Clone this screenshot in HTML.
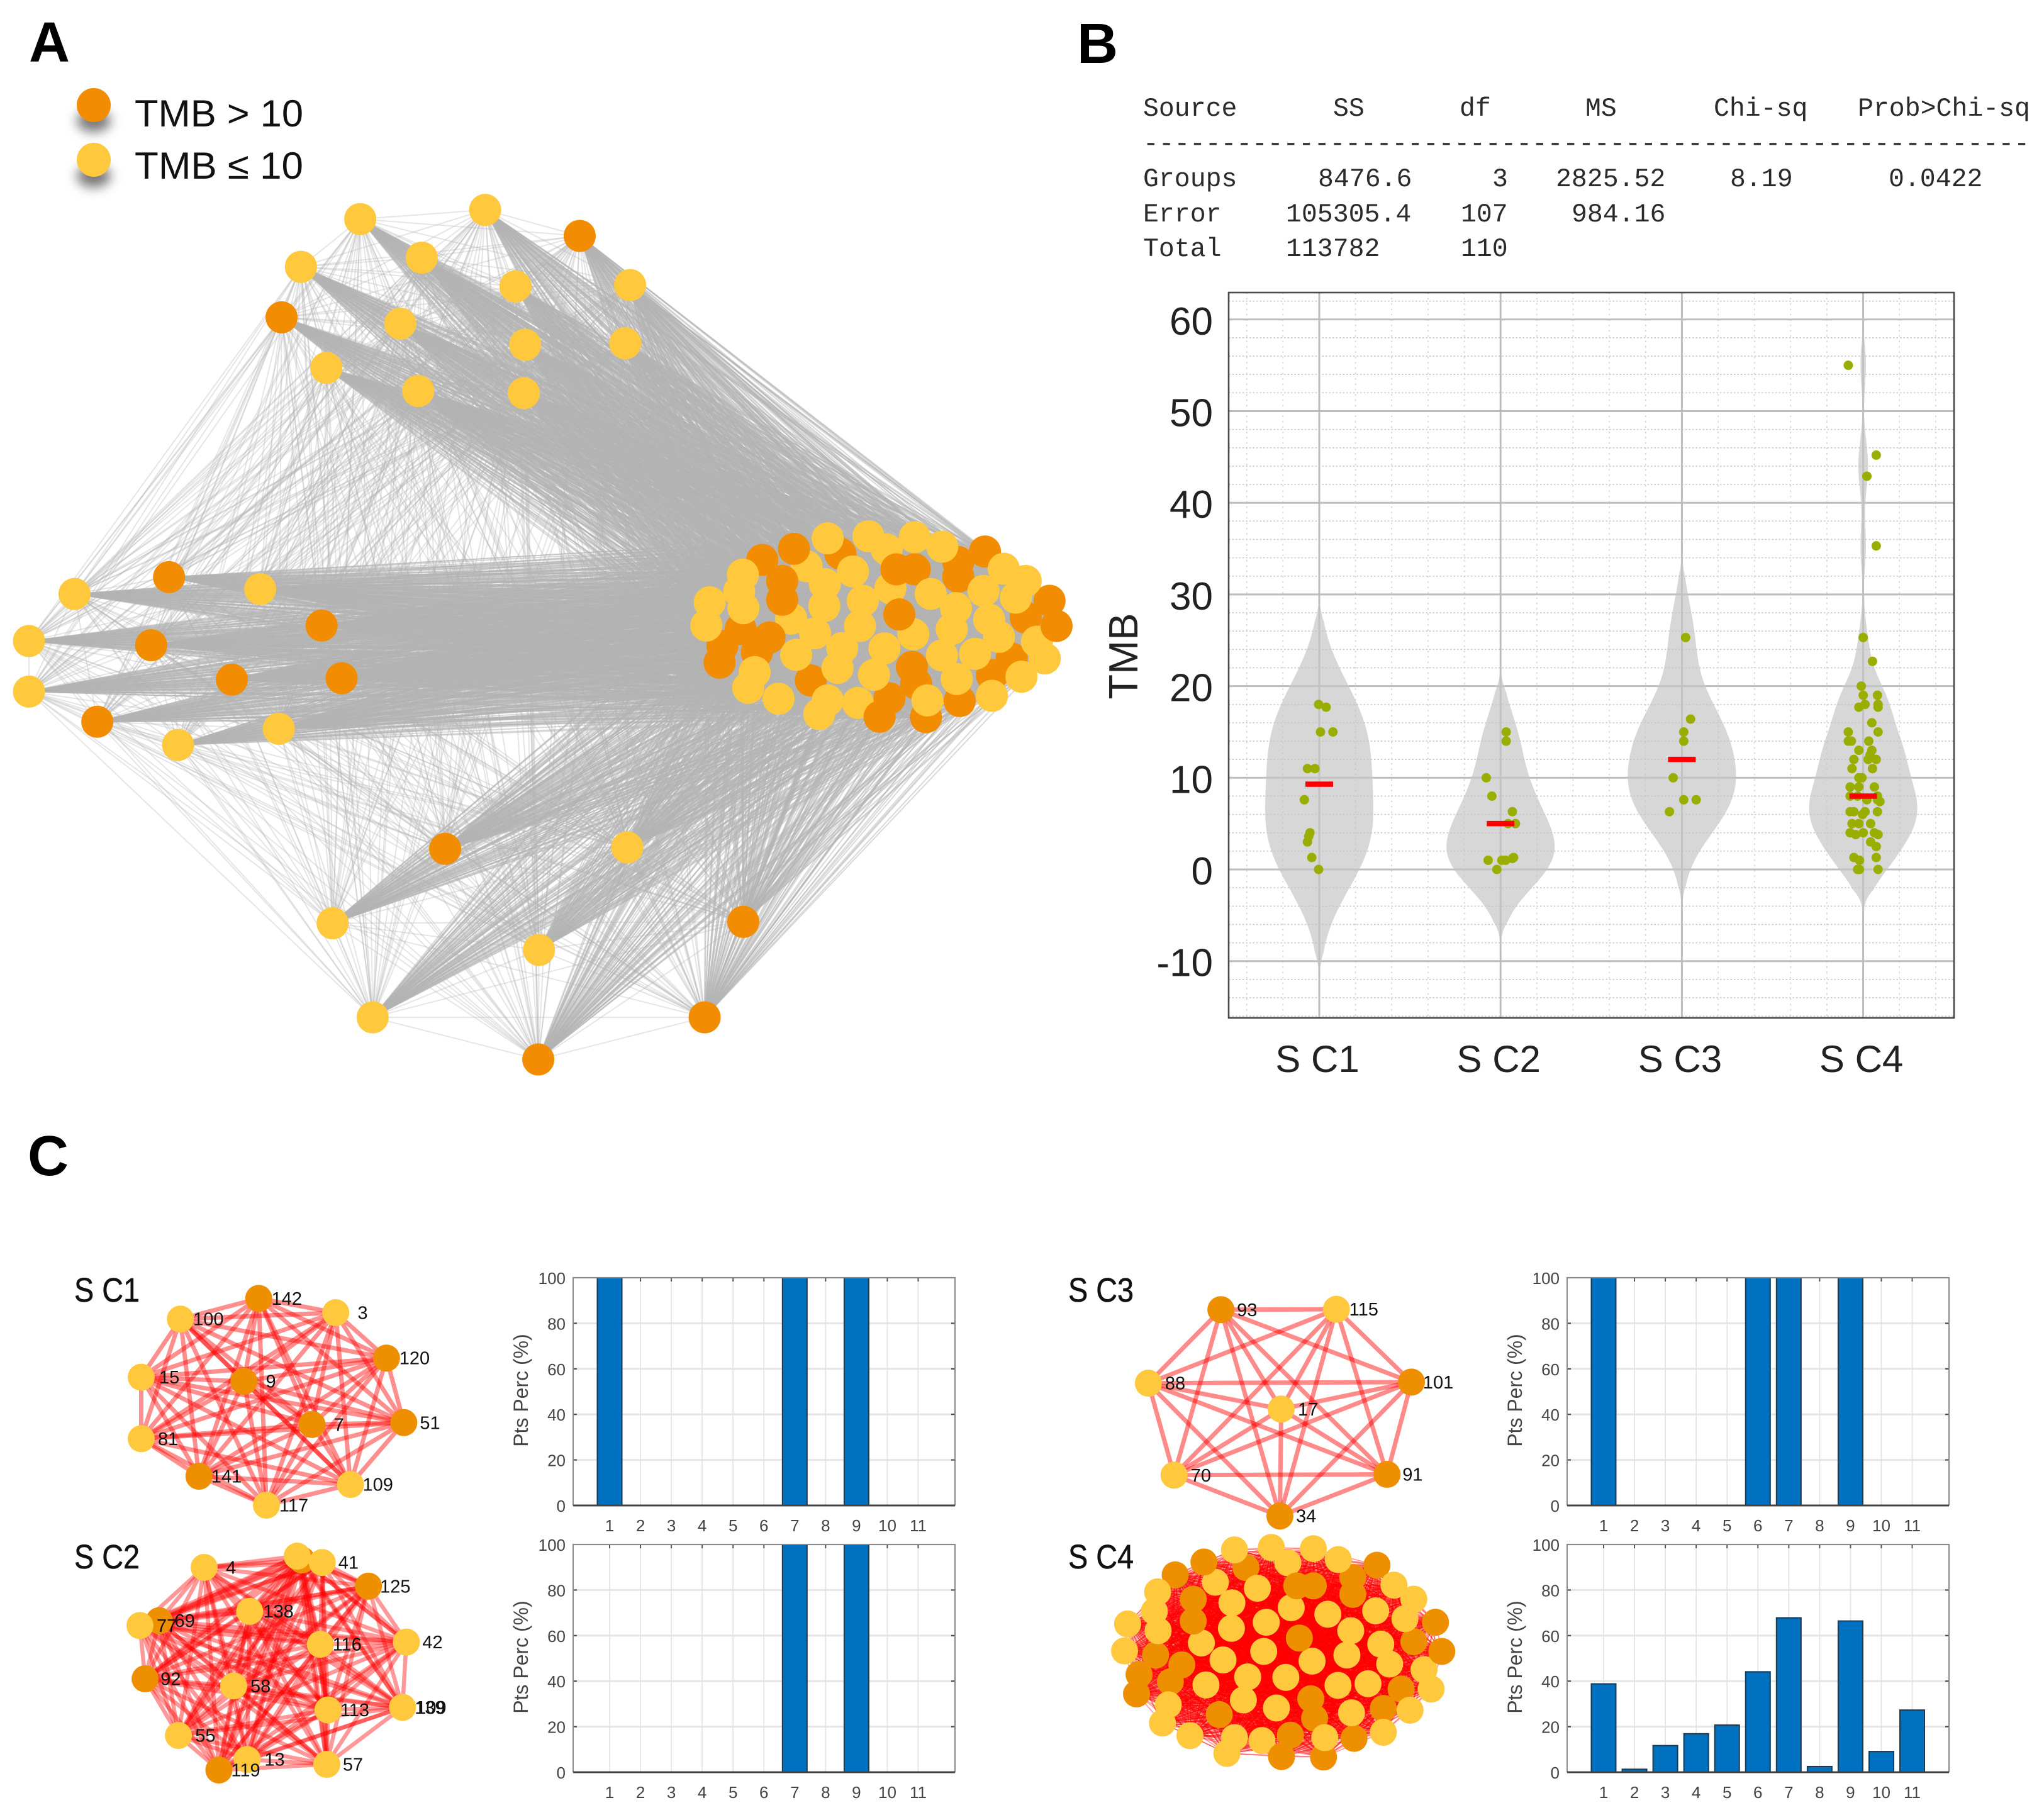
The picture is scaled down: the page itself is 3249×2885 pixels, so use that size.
<!DOCTYPE html>
<html lang="en">
<head>
<meta charset="utf-8">
<title>TMB network, violin plot and cluster bar charts</title>
<style>
html,body{margin:0;padding:0;background:#fff;}
svg{display:block;}
text{font-family:"Liberation Sans",sans-serif;}
.mono{font-family:"Liberation Mono",monospace;font-size:41.5px;fill:#2b2b2b;}
</style>
</head>
<body>
<svg id="figure" xmlns="http://www.w3.org/2000/svg" width="3249" height="2885" viewBox="0 0 3249 2885">
<defs>
<filter id="soft" x="-80%" y="-80%" width="260%" height="260%"><feGaussianBlur stdDeviation="9"/></filter>
</defs>
<rect width="3249" height="2885" fill="#fff"/>

<text x="46" y="98" font-size="90" font-weight="bold" fill="#000">A</text>
<text x="1712" y="100" font-size="90" font-weight="bold" fill="#000">B</text>
<text x="44" y="1868" font-size="90" font-weight="bold" fill="#000">C</text>

<g id="net-a"></g>

<g>
<ellipse cx="149" cy="192" rx="27" ry="18" fill="#777" filter="url(#soft)"/>
<circle cx="149" cy="167" r="27" fill="#F28C00"/>
<text x="214" y="201" font-size="60" textLength="268" lengthAdjust="spacingAndGlyphs" fill="#111">TMB &gt; 10</text>
<ellipse cx="149" cy="280" rx="27" ry="18" fill="#777" filter="url(#soft)"/>
<circle cx="149" cy="254" r="27" fill="#FFC83D"/>
<text x="214" y="284" font-size="60" textLength="268" lengthAdjust="spacingAndGlyphs" fill="#111">TMB ≤ 10</text>
</g>

<g>
<text class="mono" x="1817" y="184">Source</text>
<text class="mono" x="2119" y="184">SS</text>
<text class="mono" x="2320" y="184">df</text>
<text class="mono" x="2520" y="184">MS</text>
<text class="mono" x="2724" y="184">Chi-sq</text>
<text class="mono" x="2953" y="184">Prob&gt;Chi-sq</text>
<text class="mono" x="1817" y="240" textLength="1409" lengthAdjust="spacingAndGlyphs">---------------------------------------------------------</text>
<text class="mono" x="1817" y="296">Groups</text>
<text class="mono" x="2095" y="296">8476.6</text>
<text class="mono" x="2372" y="296">3</text>
<text class="mono" x="2473" y="296">2825.52</text>
<text class="mono" x="2750" y="296">8.19</text>
<text class="mono" x="3002" y="296">0.0422</text>
<text class="mono" x="1817" y="352">Error</text>
<text class="mono" x="2044" y="352">105305.4</text>
<text class="mono" x="2322" y="352">107</text>
<text class="mono" x="2498" y="352">984.16</text>
<text class="mono" x="1817" y="407">Total</text>
<text class="mono" x="2044" y="407">113782</text>
<text class="mono" x="2322" y="407">110</text>
</g>

<g id="violin"></g>
<text transform="translate(1808,1043) rotate(-90)" text-anchor="middle" font-size="65" fill="#222">TMB</text>

<text x="118" y="2069" font-size="54" textLength="104" lengthAdjust="spacingAndGlyphs" fill="#111" stroke="#111" stroke-width="0.6">S C1</text>
<text x="118" y="2493" font-size="54" textLength="104" lengthAdjust="spacingAndGlyphs" fill="#111" stroke="#111" stroke-width="0.6">S C2</text>
<text x="1698" y="2069" font-size="54" textLength="104" lengthAdjust="spacingAndGlyphs" fill="#111" stroke="#111" stroke-width="0.6">S C3</text>
<text x="1698" y="2493" font-size="54" textLength="104" lengthAdjust="spacingAndGlyphs" fill="#111" stroke="#111" stroke-width="0.6">S C4</text>

<g id="nets-c"></g>
<g id="bars-c"></g>
</svg>

<script>
/* ---------- Violin chart data ---------- */
const violinCategories = ['S C1', 'S C2', 'S C3', 'S C4'];
const violinTicks = [-10, 0, 10, 20, 30, 40, 50, 60];
const tmbC1 = [18, 17.7, 15, 15, 11, 11, 7.6, 4, 3.6, 3, 1.3, 0];
const jitterC1 = [-1, 11, 2, 22, -19, -7, -24, -15, -17, -19, -12, -1];
const tmbC2 = [15, 14, 10, 8, 6.3, 5, 5, 1, 1, 1, 1.2, 1.3, 0];
const jitterC2 = [9, 9, -23, -14, 19, 12, 24, -20, 2, 8, 19, 21, -6];
const tmbC3 = [25.3, 16.4, 15, 14, 10, 7.6, 7.6, 6.3];
const jitterC3 = [6, 14, 3, 3, -14, 3, 23, -20];
const tmbC4 = [55, 45.2, 42.9, 35.3, 25.3, 22.7, 20, 19, 19, 18, 17.7, 18, 17.7, 16, 15, 15, 14, 14, 14, 13, 13, 12.5, 12, 12, 12, 11, 11, 10, 10, 9, 9, 9, 8, 8, 8, 7.6, 7.6, 7.4, 6.3, 6.3, 6.3, 6, 6.3, 5, 5, 5, 4, 3.8, 4, 4, 3.8, 3, 2.5, 1.3, 1, 1.3, 0, 0, 0];
const jitterC4 = [-24, 21, 6, 21, 0, 15, -3, 0, 23, 3, -7, 24, 24, 14, -24, 24, 9, -24, -19, -7, 14, 11, -15, 8, 21, -18, 15, -7, -2, -21, -7, 18, -9, -21, 23, 6, 23, 27, -21, -15, 3, -1, 23, -18, -7, 12, -21, -12, 0, 18, 24, 12, 21, -15, -6, 21, -9, -6, 24];
const medians = [9.3, 5, 12, 8];
const bandwidths = [5.2, 3.5, 4.2, 2.5];
const violinLow = [-12.1, -8.7, -4.8, -5.2];
const violinHigh = [30, 22.4, 35, 60];

/* ---------- Bar chart data ---------- */
const barCategories = [1, 2, 3, 4, 5, 6, 7, 8, 9, 10, 11];
const barTicks = [0, 20, 40, 60, 80, 100];
const ptsPercC1 = [100, 0, 0, 0, 0, 0, 100, 0, 100, 0, 0];
const ptsPercC2 = [0, 0, 0, 0, 0, 0, 100, 0, 100, 0, 0];
const ptsPercC3 = [100, 0, 0, 0, 0, 100, 100, 0, 100, 0, 0];
const ptsPercC4 = [38.8, 1.3, 11.7, 16.9, 20.7, 44.1, 67.8, 2.5, 66.4, 9.1, 27.3];

/* ---------- Network layouts (layout units: x, y, TMB class) ---------- */
const topGroup = [[522,312,'y'],[703,299,'y'],[840,336,'o'],[611,367,'y'],[436,380,'y'],[747,408,'y'],[913,406,'y'],[408,452,'o'],[580,461,'y'],[761,491,'y'],[906,489,'y'],[473,524,'y'],[606,557,'y'],[759,560,'y']];
const leftGroup = [[245,822,'o'],[108,846,'y'],[377,839,'y'],[466,891,'o'],[42,913,'y'],[219,919,'o'],[42,985,'y'],[336,968,'o'],[495,966,'o'],[141,1028,'o'],[404,1038,'y'],[258,1061,'y']];
const bottomGroup = [[645,1209,'o'],[909,1207,'y'],[482,1315,'y'],[1077,1313,'o'],[781,1353,'y'],[540,1449,'y'],[1021,1449,'o'],[780,1509,'o']];
const clusterGroup = [
[640,300,'o'],[362,330,'o'],[1060,340,'o'],[1155,290,'o'],[1300,605,'o'],[285,660,'o'],[220,740,'o'],[343,770,'o'],[535,905,'o'],[910,920,'o'],[945,1080,'o'],[1065,1003,'o'],[1250,800,'o'],[1180,880,'o'],
[520,360,'y'],[465,610,'y'],[805,280,'y'],[818,465,'y'],[900,685,'y'],[1340,720,'y'],[1368,800,'y'],[703,1012,'y'],
[475,277,'o'],[433,430,'o'],[433,520,'o'],[388,700,'o'],[210,820,'o'],[840,375,'o'],[905,375,'o'],[1060,410,'o'],[850,590,'o'],[895,840,'o'],[780,1078,'o'],[815,990,'o'],[1385,525,'o'],[1410,645,'o'],
[595,227,'y'],[740,217,'y'],[905,222,'y'],[1003,267,'y'],[685,385,'y'],[585,445,'y'],[293,400,'y'],[280,480,'y'],[295,560,'y'],[175,532,'y'],[163,643,'y'],[583,550,'y'],[720,525,'y'],[962,492,'y'],[1052,560,'y'],[1150,478,'y'],[1222,372,'y'],[1300,430,'y'],[1265,510,'y'],[1170,615,'y'],[1037,660,'y'],[710,645,'y'],[550,680,'y'],[483,783,'y'],[647,750,'y'],[630,845,'y'],[797,752,'y'],[760,878,'y'],[1002,785,'y'],[1120,778,'y'],[1205,697,'y'],[1055,898,'y'],[335,865,'y'],[312,940,'y'],[420,992,'y'],[595,1000,'y'],[565,1065,'y'],[950,1000,'y'],[1180,978,'y'],[1285,887,'y']
];
/* cluster sub-networks: x, y, TMB class, node id, label x */
const netC1 = [[403,191,'o','142',423],[523,229,'y','3',557],[281,246,'y','100',301],[602,350,'o','120',622],[220,401,'y','15',248],[380,412,'o','9',414],[486,527,'o','7',520],[629,522,'o','51',654],[220,565,'y','81',246],[310,665,'o','141',329],[546,687,'y','109',565],[415,742,'y','117',435]];
const netC2 = [[318,908,'y','4',352],[470,888,'o','',0],[463,878,'y','',0],[502,895,'y','41',527],[574,958,'o','125',592],[248,1050,'o','69',272],[218,1063,'y','77',244],[389,1025,'y','138',410],[499,1113,'y','116',518],[633,1107,'y','42',658],[226,1205,'o','92',250],[364,1224,'y','58',390],[511,1288,'y','113',530],[627,1281,'y','139',646],[278,1356,'y','55',304],[385,1420,'y','13',412],[341,1448,'o','119',360],[509,1433,'y','57',534]];
const netC2ExtraLabel = ['109', 648, 1281];
const netC3 = [[285,221,'o','93',310],[465,220,'y','115',485],[582,414,'o','101',600],[172,417,'y','88',198],[379,486,'y','17',405],[212,662,'y','70',238],[544,660,'o','91',568],[377,771,'o','34',402]];

const SVG_NS = 'http://www.w3.org/2000/svg';
function mk(tag, attrs, parent) {
  const e = document.createElementNS(SVG_NS, tag);
  for (const k in attrs) e.setAttribute(k, attrs[k]);
  parent.appendChild(e);
  return e;
}
const ORANGE = '#F28C00';
const YELLOW = '#FFC83D';

/* ---------- Panel A network ---------- */
(function () {
  const g = document.getElementById('net-a');
  const sx = v => v * 1.097;
  const sy = v => v * 1.116;
  const cx = v => 1050 + 0.4464 * v;
  const cy = v => 780 + 0.3333 * v;
  const outer = topGroup.concat(leftGroup, bottomGroup).map(n => ({ x: sx(n[0]), y: sy(n[1]), c: n[2] }));
  const inner = clusterGroup.map(n => ({ x: cx(n[0]), y: cy(n[1]), c: n[2] }));
  const edgeLayer = mk('g', { stroke: '#b4b4b4', 'stroke-width': 2 }, g);
  
  
  function edge(a, b, alpha) {
    const l = mk('line', { x1: a.x, y1: a.y, x2: b.x, y2: b.y, 'stroke-opacity': alpha }, edgeLayer);
    
    
  }
  for (let i = 0; i < outer.length; i++) {
    for (let j = i + 1; j < outer.length; j++) edge(outer[i], outer[j], 0.34);
  }
  for (let i = 0; i < outer.length; i++) {
    for (let j = 0; j < inner.length; j++) edge(outer[i], inner[j], 0.5);
  }
  for (let i = 0; i < inner.length; i++) {
    for (let j = i + 1; j < inner.length; j++) edge(inner[i], inner[j], 0.5);
  }
  outer.concat(inner).forEach(n => {
    const c = mk('circle', { cx: n.x, cy: n.y, r: 25.5, fill: n.c === 'o' ? ORANGE : YELLOW }, g);
    
    
  });
})();

/* ---------- Panel B violin chart ---------- */
const vLeft = 1953, vRight = 3106, vTop = 465, vBottom = 1618;
function violinY(v) { return 1382 - v * 14.57; }
function violinX(c) { return 2097 + c * 288.2; }
const violinSeries = [[tmbC1, jitterC1], [tmbC2, jitterC2], [tmbC3, jitterC3], [tmbC4, jitterC4]];

(function () {
  const g = document.getElementById('violin');
  const grid = mk('g', {}, g);
  
  
  for (let v = -16; v <= 62; v += 2) {
    if (v % 10 === 0) continue;
    const l = mk('line', { x1: vLeft, x2: vRight, y1: violinY(v), y2: violinY(v), stroke: '#c8c8c8', 'stroke-width': 1.6, 'stroke-dasharray': '2.5 3' }, grid);
    
    
  }
  for (let k = -2; k <= 20; k++) {
    if (k % 5 === 0) continue;
    const x = violinX(k / 5);
    if (x <= vLeft || x >= vRight) continue;
    const l = mk('line', { x1: x, x2: x, y1: vTop, y2: vBottom, stroke: '#d0d0d0', 'stroke-width': 1.6, 'stroke-dasharray': '2.5 6' }, grid);
    
    
  }
  violinTicks.forEach(t => {
    const l = mk('line', { x1: vLeft, x2: vRight, y1: violinY(t), y2: violinY(t), stroke: '#bdbdbd', 'stroke-width': 3 }, grid);
    
    
    const s = mk('text', { x: 1928, y: violinY(t) + 24, 'text-anchor': 'end', 'font-size': 62, fill: '#222' }, g);
    s.textContent = t;
    
    
  });
  violinCategories.forEach((name, c) => {
    const l = mk('line', { x1: violinX(c), x2: violinX(c), y1: vTop, y2: vBottom, stroke: '#bdbdbd', 'stroke-width': 3 }, grid);
    
    
    const s = mk('text', { x: violinX(c) - 3, y: 1704, 'text-anchor': 'middle', 'font-size': 60, fill: '#222' }, g);
    s.textContent = name;
    
    
  });
  violinSeries.forEach((pair, c) => {
    const vals = pair[0], jit = pair[1], h = bandwidths[c];
    const lo = violinLow[c];
    const hi = violinHigh[c];
    const dens = [];
    let peak = 0;
    for (let v = lo; v <= hi + 1e-6; v += 0.25) {
      let d = 0;
      vals.forEach(p => { d += Math.exp(-0.5 * Math.pow((v - p) / h, 2)); });
      d *= Math.min(1, (hi - v) / 3, (v - lo) / 3);
      dens.push([v, d]);
      if (d > peak) peak = d;
    }
    const right = dens.map(p => (violinX(c) + 86 * p[1] / peak).toFixed(1) + ',' + violinY(p[0]).toFixed(1));
    const left = dens.slice().reverse().map(p => (violinX(c) - 86 * p[1] / peak).toFixed(1) + ',' + violinY(p[0]).toFixed(1));
    const shape = mk('polygon', { points: right.concat(left).join(' '), fill: '#c4c4c4', 'fill-opacity': 0.68 }, g);
    
    
    vals.forEach((v, i) => {
      const d = mk('circle', { cx: violinX(c + jit[i] / 292), cy: violinY(v), r: 7.5, fill: '#9AAE00' }, g);
      
      
    });
    const b = mk('line', { x1: violinX(c) - 22, x2: violinX(c) + 22, y1: violinY(medians[c]), y2: violinY(medians[c]), stroke: '#f00', 'stroke-width': 8.5 }, g);
    
    
  });
  const frame = mk('rect', { x: vLeft, y: vTop, width: vRight - vLeft, height: vBottom - vTop, fill: 'none', stroke: '#4a4a4a', 'stroke-width': 2.6 }, g);
  
  
})();

/* ---------- Panel C sub-networks ---------- */
function drawLabeledNet(nodes, sx, sy, r, width, alpha, name) {
  const root = document.getElementById('nets-c');
  const g = mk('g', {}, root);
  
  
  for (let i = 0; i < nodes.length; i++) {
    for (let j = i + 1; j < nodes.length; j++) {
      const l = mk('line', { x1: sx(nodes[i][0]), y1: sy(nodes[i][1]), x2: sx(nodes[j][0]), y2: sy(nodes[j][1]), stroke: '#f00', 'stroke-width': width, 'stroke-opacity': alpha }, g);
      
      
    }
  }
  nodes.forEach(n => {
    const c = mk('circle', { cx: sx(n[0]), cy: sy(n[1]), r: r, fill: n[2] === 'o' ? '#EE8F00' : YELLOW }, g);
    
    
  });
  nodes.forEach(n => {
    if (!n[3]) return;
    const s = mk('text', { x: sx(n[4]), y: sy(n[1]) + 10, 'font-size': 29, fill: '#111' }, g);
    s.textContent = n[3];
    
    
  });
  return g;
}
const leftColX = v => v * 1.0204;
const rightColX = v => 1650 + v * 1.0198;
const rowY = v => 1950 + v * 0.5963;
drawLabeledNet(netC1, leftColX, rowY, 21.5, 7, 0.44, 'network-s-c1');
const netC2Group = drawLabeledNet(netC2, leftColX, rowY, 21.5, 6.5, 0.4, 'network-s-c2');
const extraLabel = mk('text', { x: leftColX(netC2ExtraLabel[1]), y: rowY(netC2ExtraLabel[2]) + 10, 'font-size': 29, fill: '#111' }, netC2Group);
extraLabel.textContent = netC2ExtraLabel[0];


drawLabeledNet(netC3, rightColX, rowY, 21.5, 7, 0.46, 'network-s-c3');
drawLabeledNet(clusterGroup.map(n => [n[0], n[1], n[2], '', 0]), v => 1721.6 + 0.4044 * v, v => 2376 + 0.386 * v, 21.5, 1.6, 0.4, 'network-s-c4');

/* ---------- Panel C bar charts ---------- */
function drawBars(values, left, top, name) {
  const root = document.getElementById('bars-c');
  const right = left + 607, bottom = top + 362;
  const bx = c => left + 58 + (c - 1) * 49.05;
  const by = v => bottom - v * 3.62;
  const g = mk('g', {}, root);
  
  
  const bg = mk('rect', { x: left, y: top, width: 607, height: 362, fill: '#fff' }, g);
  
  
  barTicks.forEach(t => {
    const l = mk('line', { x1: left, x2: right, y1: by(t), y2: by(t), stroke: '#e6e6e6', 'stroke-width': 3 }, g);
    
    
    const tick = mk('line', { x1: left, x2: left + 6, y1: by(t), y2: by(t), stroke: '#444', 'stroke-width': 2 }, g);
    
    
    const tick2 = mk('line', { x1: right - 6, x2: right, y1: by(t), y2: by(t), stroke: '#444', 'stroke-width': 2 }, g);
    
    
    const s = mk('text', { x: left - 12, y: by(t) + 10, 'text-anchor': 'end', 'font-size': 26, fill: '#444' }, g);
    s.textContent = t;
    
    
  });
  barCategories.forEach(c => {
    const l = mk('line', { x1: bx(c), x2: bx(c), y1: top, y2: bottom, stroke: '#e2e2e2', 'stroke-width': 1.6 }, g);
    
    
    const tick = mk('line', { x1: bx(c), x2: bx(c), y1: top, y2: top + 6, stroke: '#555', 'stroke-width': 2 }, g);
    
    
    const s = mk('text', { x: bx(c), y: bottom + 41, 'text-anchor': 'middle', 'font-size': 26, fill: '#444' }, g);
    s.textContent = c;
    
    
  });
  values.forEach((v, i) => {
    const c = barCategories[i];
    const b = mk('rect', { x: bx(c) - 19.5, y: by(v), width: 39, height: bottom - by(v), fill: '#0070C0', stroke: '#173a52', 'stroke-width': 2 }, g);
    
    
  });
  const frameTop = mk('path', { d: `M${left} ${bottom}V${top}H${right}V${bottom}`, fill: 'none', stroke: '#8a8a8a', 'stroke-width': 2 }, g);
  
  
  const axis = mk('line', { x1: left, x2: right, y1: bottom, y2: bottom, stroke: '#444', 'stroke-width': 3 }, g);
  
  
  const title = mk('text', { transform: `translate(${left - 72},${(top + bottom) / 2 - 2}) rotate(-90)`, 'text-anchor': 'middle', 'font-size': 32, fill: '#444' }, g);
  title.textContent = 'Pts Perc (%)';
  
  
}
drawBars(ptsPercC1, 911, 2031, 'bar-chart-s-c1');
drawBars(ptsPercC2, 911, 2455, 'bar-chart-s-c2');
drawBars(ptsPercC3, 2491, 2031, 'bar-chart-s-c3');
drawBars(ptsPercC4, 2491, 2455, 'bar-chart-s-c4');
</script>
</body>
</html>
